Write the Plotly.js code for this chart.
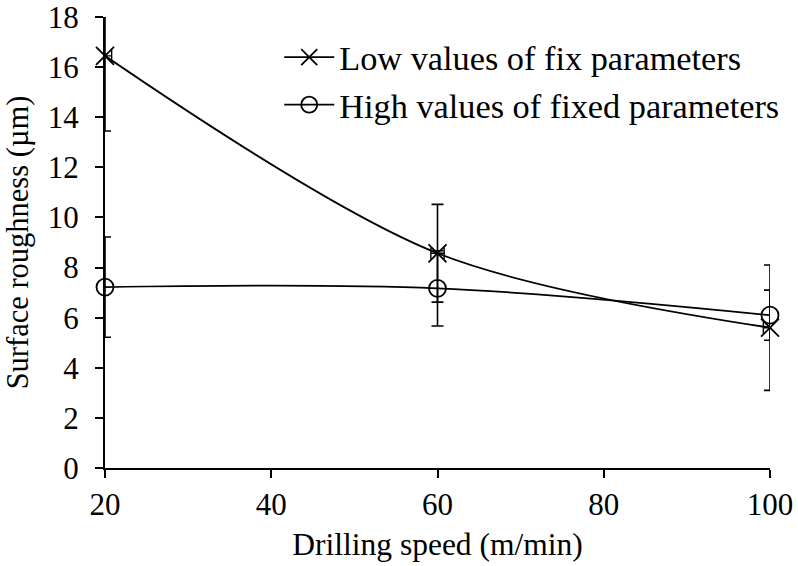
<!DOCTYPE html>
<html>
<head>
<meta charset="utf-8">
<script src="https://cdn.plot.ly/plotly-3.0.1.min.js"></script>
<style>html,body{margin:0;padding:0;background:#fff;}#chart{width:798px;height:566px;}</style>
</head>
<body>
<div id="chart"></div>
<script>
var speeds = [20, 60, 100];
var lowValues = [16.45, 8.57, 5.6];
var lowErrors = [3.0, 1.95, 2.5];
var highValues = [7.22, 7.17, 6.1];
var highErrors = [2.0, 1.5, 1.0];
var lowName = 'Low values of fix parameters';
var highName = 'High values of fixed parameters';
var xTicks = [20, 40, 60, 80, 100];
var yTicks = [0, 2, 4, 6, 8, 10, 12, 14, 16, 18];

var FONT = '"Liberation Serif", "Times New Roman", serif';
var BLACK = '#000000';

function errTrace(xs, ys, es, clip) {
  return {
    x: xs, y: ys, type: 'scatter', mode: 'markers',
    marker: {size: 1, opacity: 0},
    error_y: {type: 'data', array: es, visible: true, color: BLACK, thickness: 1.6, width: 6},
    cliponaxis: clip, showlegend: false, hoverinfo: 'skip'
  };
}

var traces = [
  errTrace(speeds.slice(0, 1), lowValues.slice(0, 1), lowErrors.slice(0, 1), true),
  errTrace(speeds.slice(1), lowValues.slice(1), lowErrors.slice(1), false),
  errTrace(speeds.slice(0, 1), highValues.slice(0, 1), highErrors.slice(0, 1), true),
  errTrace(speeds.slice(1), highValues.slice(1), highErrors.slice(1), false),
  {
    x: speeds, y: lowValues, name: lowName, type: 'scatter', mode: 'lines+markers',
    line: {color: BLACK, width: 1.8, shape: 'spline', smoothing: 0.9},
    marker: {symbol: 'x-thin-open', size: 18, color: BLACK, line: {color: BLACK, width: 1.8}},
    error_x: {type: 'data', array: [0.8, 0.8, 0.8], visible: true, color: BLACK, thickness: 1.4, width: 6},
    cliponaxis: false, legendgroup: 'a'
  },
  {
    x: speeds, y: highValues, name: highName, type: 'scatter', mode: 'lines+markers',
    line: {color: BLACK, width: 1.8, shape: 'spline', smoothing: 1},
    marker: {symbol: 'circle-open', size: 17, color: BLACK, line: {color: BLACK, width: 1.8}},
    cliponaxis: false, legendgroup: 'b'
  }
];

var layout = {
  width: 798, height: 566,
  margin: {l: 105, r: 28, t: 17, b: 98, pad: 0},
  paper_bgcolor: '#ffffff', plot_bgcolor: '#ffffff',
  font: {family: FONT, size: 30, color: BLACK},
  showlegend: true,
  legend: {
    x: 0.262, y: 0.975, xanchor: 'left', yanchor: 'top',
    bgcolor: 'rgba(0,0,0,0)', borderwidth: 0,
    font: {family: FONT, size: 34.3, color: BLACK},
    itemwidth: 50, tracegroupgap: 2, traceorder: 'normal'
  },
  xaxis: {
    range: [20, 100], tickvals: xTicks, ticktext: xTicks.map(String),
    showline: true, linecolor: BLACK, linewidth: 2,
    ticks: 'outside', ticklen: 8, tickwidth: 2, tickcolor: BLACK,
    showgrid: false, zeroline: false, ticklabelstandoff: 0, ticklabeloverflow: 'allow',
    tickfont: {family: FONT, size: 31, color: BLACK},
    title: {text: 'Drilling speed (m/min)', font: {family: FONT, size: 31.5, color: BLACK}, standoff: 12}
  },
  yaxis: {
    range: [0, 18], tickvals: yTicks, ticktext: yTicks.map(String),
    showline: true, linecolor: BLACK, linewidth: 2,
    ticks: 'outside', ticklen: 8, tickwidth: 2, tickcolor: BLACK,
    showgrid: false, zeroline: false, ticklabelstandoff: 10, ticklabeloverflow: 'allow',
    tickfont: {family: FONT, size: 31, color: BLACK},
    title: {text: 'Surface roughness (µm)', font: {family: FONT, size: 30.5, color: BLACK}, standoff: 10}
  }
};

Plotly.newPlot('chart', traces, layout, {displayModeBar: false, staticPlot: true});
</script>
</body>
</html>
